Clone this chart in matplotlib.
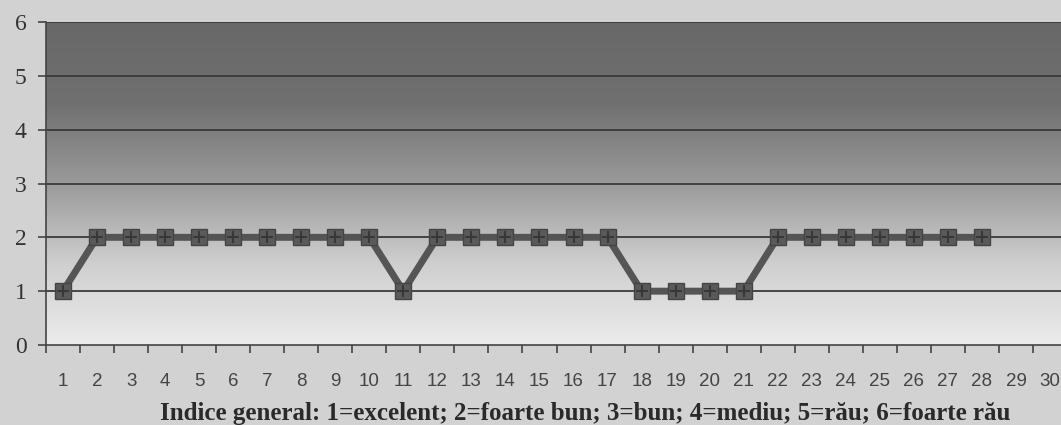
import matplotlib
matplotlib.use("Agg")
from matplotlib import pyplot as plt
from matplotlib.colors import LinearSegmentedColormap
import numpy as np

# categories 1..30, values for the first 28
categories = list(range(1, 31))
values = [1, 2, 2, 2, 2, 2, 2, 2, 2, 2, 1, 2, 2, 2, 2, 2, 2, 1, 1, 1, 1, 2, 2, 2, 2, 2, 2, 2]
y_ticks = [0, 1, 2, 3, 4, 5, 6]
xlabel = "Indice general: 1=excelent; 2=foarte bun; 3=bun; 4=mediu; 5=rău; 6=foarte rău"

fig = plt.figure(figsize=(10.61, 4.25), dpi=100)
fig.patch.set_facecolor("#d2d2d2")
ax = fig.add_axes([46 / 1061, 1 - 345 / 425, 1021 / 1061, 323 / 425])

# gradient background (dark top -> light bottom)
cmap = LinearSegmentedColormap.from_list("bg", ["#ececec", "#cfcfcf", "#9a9a9a", "#707070", "#686868"])
grad = np.linspace(0, 1, 256).reshape(-1, 1)
ax.imshow(grad, extent=[0.5, 30.5, 0, 6], origin="lower", aspect="auto",
          cmap=cmap, zorder=0)

for yv in y_ticks[1:]:
    ax.axhline(yv, color="#3a3a3a", lw=1.3, zorder=1)

x = categories[:len(values)]
ax.plot(x, values, color="#555555", lw=5, marker="s", markersize=12,
        markerfacecolor="#5a5a5a", markeredgecolor="#444444", zorder=3)
ax.plot(x, values, ls="none", marker="+", markersize=9, color="#383838", mew=1.5, zorder=4)

ax.set_xlim(0.5, 30.5)
ax.set_ylim(0, 6)
ax.set_yticks(y_ticks)
ax.set_yticklabels([str(v) for v in y_ticks], family="Liberation Serif", fontsize=17, color="#333333")
ax.set_xticks(categories)
ax.set_xticklabels([str(c) for c in categories], family="Liberation Sans", fontsize=13.5, color="#444444")
ax.set_xticks(np.arange(0.5, 31, 1), minor=True)
ax.tick_params(axis="x", which="major", length=0, pad=20)
ax.tick_params(axis="x", which="minor", length=6, width=1.2, color="#444444", direction="out")
ax.tick_params(axis="y", length=6, width=1.2, color="#444444", direction="out", pad=8)

for s in ["top", "right"]:
    ax.spines[s].set_visible(False)
ax.spines["left"].set_color("#444444")
ax.spines["bottom"].set_color("#444444")
ax.spines["left"].set_linewidth(1.2)
ax.spines["bottom"].set_linewidth(1.2)

ax.set_xlabel(xlabel, family="Liberation Serif", fontweight="bold", fontsize=18,
              color="#2a2a2a")
ax.xaxis.set_label_coords(0.528, -0.175)

plt.savefig("out.png", dpi=100, facecolor=fig.get_facecolor())
